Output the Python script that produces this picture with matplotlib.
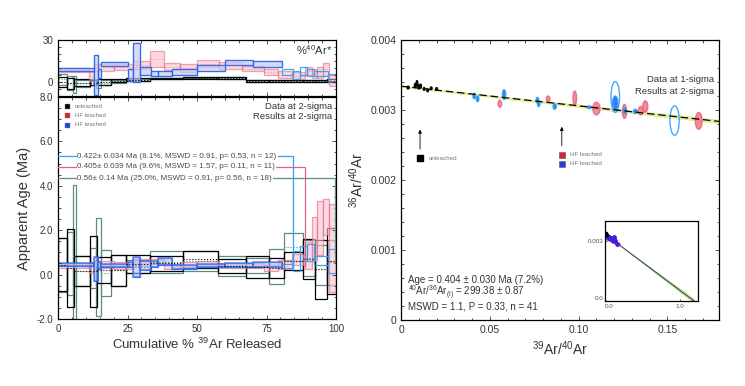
import numpy as np
import matplotlib
matplotlib.use('Agg')
import matplotlib.pyplot as plt
from matplotlib.patches import Rectangle, Ellipse
from matplotlib.ticker import MultipleLocator, FormatStrFormatter

plt.rcParams['font.family'] = ['Liberation Sans', 'DejaVu Sans']
plt.rcParams['mathtext.default'] = 'regular'

# ---- age spectrum data (cumulative % 39Ar edges, age Ma, 2s err, %40Ar*, err)
edges_k = [0, 3.2, 5.6, 11.4, 14.0, 18.9, 24.3, 32.9, 44.8, 57.4, 67.6, 75.8, 81.2, 88.1, 92.6, 96.8, 100]
age_k = [0.45, 0.30, 0.18, 0.15, 0.20, 0.20, 0.48, 0.50, 0.68, 0.38, 0.35, 0.30, 0.60, 0.70, 0.25, 0.62]
err_k = [1.20, 1.75, 0.68, 1.60, 0.60, 0.70, 0.42, 0.35, 0.38, 0.30, 0.50, 0.45, 0.40, 0.90, 1.33, 1.48]
ar_k = [0.0, -1.0, -0.5, -0.5, 0.0, 1.0, 1.5, 2.5, 3.0, 2.8, 0.8, 0.8, 1.0, 0.6, 0.5, 0.8]
arerr_k = [3.5, 4.0, 2.5, 2.0, 2.0, 1.2, 1.0, 0.6, 0.6, 0.6, 0.6, 0.6, 0.7, 0.8, 0.8, 1.0]

edges_t = [0, 3.2, 5.4, 6.6, 11.4, 13.8, 15.5, 18.9, 24.3, 32.9, 44.8, 57.4, 67.6, 75.8, 81.2, 88.1, 92.6, 96.8, 100]
age_t = [0.45, 0.50, 0.85, 0.18, 0.30, 0.33, 0.07, 0.20, 0.35, 0.55, 0.60, 0.38, 0.40, 0.36, 1.25, 0.75, 0.45, 0.55]
err_t = [1.22, 1.40, 3.20, 0.68, 0.90, 2.20, 1.05, 0.70, 0.30, 0.50, 0.45, 0.44, 0.35, 0.78, 0.63, 0.80, 0.90, 1.00]
ar_t = [2.0, -1.0, -2.0, -1.0, 0.0, -1.0, -0.5, 0.5, 1.5, 2.5, 3.0, 2.8, 0.8, 0.8, 1.0, 0.8, 0.6, 0.8]
arerr_t = [4.0, 5.0, 6.0, 2.5, 2.0, 3.0, 2.0, 1.0, 0.7, 0.6, 0.5, 0.5, 0.6, 0.6, 0.7, 0.8, 0.8, 1.0]

edges_r = [0, 11.0, 13.0, 20.0, 27.0, 33.0, 38.0, 44.0, 50.0, 58.0, 66.0, 74.0, 79.0, 84.0, 88.8, 91.2, 93.3, 95.3, 97.3, 100]
age_r = [0.42, 0.30, 0.45, 0.42, 0.55, 0.60, 0.35, 0.45, 0.50, 0.40, 0.42, 0.30, 0.45, 0.70, 0.85, 1.60, 2.10, 2.60, 1.20]
err_r = [0.12, 0.25, 0.15, 0.15, 0.15, 0.12, 0.12, 0.10, 0.12, 0.10, 0.12, 0.15, 0.20, 0.25, 0.60, 1.00, 1.20, 0.80, 2.00]
ar_r = [8.5, 4.0, 10.5, 10.5, 12.0, 16.5, 11.0, 10.0, 13.0, 12.0, 9.5, 7.0, 5.0, 4.5, 8.0, 6.0, 7.0, 9.0, 1.0]
arerr_r = [1.5, 3.0, 2.5, 2.0, 3.0, 5.5, 2.5, 3.0, 2.5, 2.5, 2.0, 2.0, 2.5, 2.5, 3.0, 3.0, 4.0, 4.5, 4.0]

edges_b = [0, 12.8, 14.2, 15.5, 25.0, 27.0, 29.5, 33.5, 36.0, 41.0, 50.0, 60.0, 70.0, 80.5, 84.5, 87.0, 89.5, 92.0, 97.0, 100]
age_b = [0.45, 0.25, 0.40, 0.40, 0.45, 0.35, 0.40, 0.48, 0.60, 0.35, 0.40, 0.42, 0.45, 0.38, 0.60, 0.95, 1.00, 0.65, 0.60]
err_b = [0.08, 0.55, 0.15, 0.08, 0.10, 0.45, 0.20, 0.15, 0.15, 0.10, 0.08, 0.08, 0.10, 0.10, 0.45, 0.35, 0.40, 0.20, 0.55]
ar_b = [9.0, 5.0, 6.0, 13.0, 5.0, 14.0, 8.0, 6.0, 6.0, 7.0, 10.0, 14.0, 13.0, 7.0, 5.0, 8.0, 7.0, 6.0, 3.0]
arerr_b = [1.0, 14.0, 3.0, 1.5, 4.0, 14.0, 3.0, 2.0, 2.0, 2.0, 2.0, 2.0, 2.0, 2.0, 3.0, 3.0, 2.5, 2.0, 3.0]

# plateau results: label, level on plot, end of bracket (%), plateau age
plateau_labels = ['0.422\u00b1 0.034 Ma (8.1%, MSWD = 0.91, p= 0.53, n = 12)',
                  '0.405\u00b1 0.039 Ma (9.6%, MSWD = 1.57, p= 0.11, n = 11)',
                  '0.56\u00b1 0.14 Ma (25.0%, MSWD = 0.91, p= 0.56, n = 18)']
plateau_level = [5.33, 4.86, 4.34]
plateau_end = [84.5, 88.8, 99.7]
plateau_age = [0.422, 0.405, 0.56]

# ---- inverse isochron data (39Ar/40Ar, 36Ar/40Ar, 1s errors)
k_x = [0.004, 0.008, 0.009, 0.010, 0.011, 0.013, 0.015, 0.017, 0.020]
k_y = [0.00332, 0.00335, 0.00338, 0.00333, 0.00334, 0.00330, 0.00328, 0.00331, 0.00330]
k_sx = [0.0006, 0.0005, 0.0005, 0.0005, 0.0005, 0.0005, 0.0005, 0.0005, 0.0005]
k_sy = [0.00002, 0.00003, 0.00004, 0.00003, 0.00003, 0.00002, 0.00002, 0.00002, 0.00002]

r_x = [0.0556, 0.0828, 0.0978, 0.110, 0.1258, 0.135, 0.1375, 0.1676]
r_y = [0.00309, 0.00316, 0.00317, 0.00302, 0.00298, 0.00299, 0.00305, 0.002845]
r_sx = [0.0010, 0.0010, 0.0010, 0.0020, 0.0012, 0.0014, 0.0014, 0.0019]
r_sy = [0.00005, 0.00004, 0.00010, 0.00009, 0.00010, 0.00006, 0.00008, 0.00012]

b_x = [0.0412, 0.0431, 0.058, 0.0768, 0.0775, 0.0865, 0.106, 0.1206, 0.1206, 0.126, 0.1319, 0.154]
b_y = [0.00320, 0.00316, 0.00322, 0.00314, 0.00309, 0.00305, 0.00304, 0.003186, 0.00310, 0.00299, 0.00298, 0.00285]
b_sx = [0.0007, 0.0007, 0.0009, 0.0007, 0.0007, 0.0009, 0.0010, 0.0024, 0.0015, 0.0009, 0.0010, 0.0026]
b_sy = [0.00004, 0.00004, 0.00007, 0.00004, 0.00004, 0.00004, 0.00002, 0.00022, 0.00010, 0.00004, 0.00003, 0.00021]

iso_intercept = 0.003340
iso_slope = -0.00281
iso_sa = 0.000015
iso_sb = 0.00009

TEAL = '#5b8c86'
RED = '#e8607a'
BLUE = '#1f4fe0'
LBLUE = '#2aa0ff'
TXT = '#333333'

fig = plt.figure(figsize=(7.45, 3.86), dpi=100)
ax_top = fig.add_axes([0.0779, 0.7513, 0.3732, 0.1451])
ax_age = fig.add_axes([0.0779, 0.1736, 0.3732, 0.5751])
ax_iso = fig.add_axes([0.5383, 0.1710, 0.4268, 0.7254])
ax_in = fig.add_axes([0.8121, 0.2202, 0.1248, 0.2073])


def draw_steps(ax, edges, vals, errs, color, lw=0.9, alpha=1.0, fill=None, dotted=False):
    for i in range(len(vals)):
        x0, x1 = edges[i], edges[i + 1]
        rect = Rectangle((x0, vals[i] - errs[i]), x1 - x0, 2 * errs[i],
                         facecolor=fill if fill else 'none', edgecolor=color,
                         lw=lw, alpha=alpha)
        ax.add_patch(rect)
        if dotted:
            ax.plot([x0, x1], [vals[i], vals[i]], ls=':', color=color, lw=0.8, alpha=alpha)


def style_axis(ax):
    ax.tick_params(direction='in', which='both', top=True, right=True,
                   labelsize=7, colors=TXT, length=3, width=0.6)
    ax.tick_params(which='minor', length=1.8)
    for s in ax.spines.values():
        s.set_linewidth(0.9)


# top panel: %40Ar*
draw_steps(ax_top, edges_t, ar_t, arerr_t, TEAL, dotted=True)
draw_steps(ax_top, edges_k, ar_k, arerr_k, 'black', dotted=True)
draw_steps(ax_top, edges_r, ar_r, arerr_r, RED, alpha=0.55, fill='#f6b8c4', dotted=True)
draw_steps(ax_top, edges_b, ar_b, arerr_b, LBLUE, alpha=0.9)
draw_steps(ax_top, edges_b[:14], ar_b[:13], arerr_b[:13], BLUE, alpha=0.7, fill='#c8c8f4')
ax_top.set_xlim(0, 100)
ax_top.set_ylim(-10, 30)
ax_top.set_yticks([0, 30])
ax_top.xaxis.set_major_locator(MultipleLocator(25))
ax_top.xaxis.set_minor_locator(MultipleLocator(5))
ax_top.yaxis.set_minor_locator(MultipleLocator(5))
ax_top.set_xticklabels([])
style_axis(ax_top)
ax_top.text(0.985, 0.82, '%$^{40}$Ar*', transform=ax_top.transAxes,
            ha='right', va='center', fontsize=8, color=TXT)

# main panel: age spectrum
draw_steps(ax_age, edges_t, age_t, err_t, TEAL, dotted=True)
draw_steps(ax_age, edges_k, age_k, err_k, 'black', dotted=True)
draw_steps(ax_age, edges_r, age_r, err_r, RED, alpha=0.6, fill='#f8c4cf')
draw_steps(ax_age, edges_b, age_b, err_b, LBLUE, alpha=0.9)
draw_steps(ax_age, edges_b[:14], age_b[:13], err_b[:13], BLUE, alpha=0.6, fill='#b8b8f0', lw=1.2)

pl_colors = [LBLUE, RED, TEAL]
for lab, lev, end, pa, c in zip(plateau_labels, plateau_level, plateau_end, plateau_age, pl_colors):
    ax_age.plot([0, end, end], [lev, lev, pa], color=c, lw=0.9, zorder=3)
    ax_age.text(7.0, lev, lab, fontsize=5.8, color='#4a4a4a', va='center', ha='left',
                zorder=4, bbox=dict(facecolor='white', edgecolor='none', pad=0.6))

ax_age.set_xlim(0, 100)
ax_age.set_ylim(-2, 8)
ax_age.xaxis.set_major_locator(MultipleLocator(25))
ax_age.xaxis.set_minor_locator(MultipleLocator(5))
ax_age.yaxis.set_major_locator(MultipleLocator(2))
ax_age.yaxis.set_minor_locator(MultipleLocator(0.5))
ax_age.yaxis.set_major_formatter(FormatStrFormatter('%.1f'))
style_axis(ax_age)
ax_age.set_ylabel('Apparent Age (Ma)', fontsize=10.5, color=TXT, labelpad=4)
ax_age.set_xlabel('Cumulative % $^{39}$Ar Released', fontsize=9.5, color=TXT, labelpad=2)

leg_names = ['unleached', 'HF leached', 'HF leached']
leg_cols = ['black', '#e02030', '#2040e0']
for i, (n, c) in enumerate(zip(leg_names, leg_cols)):
    yy = 0.958 - i * 0.041
    ax_age.plot([0.032], [yy], 's', color=c, ms=3.6, transform=ax_age.transAxes,
                mec='#888888', mew=0.3)
    ax_age.text(0.06, yy, n, transform=ax_age.transAxes, fontsize=4.3,
                color='#777777', va='center')
ax_age.text(0.985, 0.955, 'Data at 2-sigma', transform=ax_age.transAxes,
            ha='right', va='center', fontsize=6.8, color=TXT)
ax_age.text(0.985, 0.91, 'Results at 2-sigma', transform=ax_age.transAxes,
            ha='right', va='center', fontsize=6.8, color=TXT)

# right panel: inverse isochron
xl = np.linspace(0, 0.18, 50)
yl = iso_intercept + iso_slope * xl
band = iso_sa + iso_sb * xl
ax_iso.fill_between(xl, yl - band, yl + band, color='#e4ec9c', lw=0)
ax_iso.plot(xl, yl, color='black', lw=0.9, ls=(0, (6, 3)))


def draw_ellipses(ax, xs, ys, sxs, sys_, color, fillc, thresh=0.00015):
    for x, y, sx, sy in zip(xs, ys, sxs, sys_):
        fc = fillc if sy < thresh else 'none'
        ax.add_patch(Ellipse((x, y), 2 * sx, 2 * sy, facecolor=fc,
                             edgecolor=color, lw=1.0, alpha=0.9))


draw_ellipses(ax_iso, k_x, k_y, k_sx, k_sy, 'black', 'black')
draw_ellipses(ax_iso, r_x, r_y, r_sx, r_sy, '#ea6a7c', '#f08090')
draw_ellipses(ax_iso, b_x, b_y, b_sx, b_sy, LBLUE, '#2f6bf0')

ax_iso.set_xlim(0, 0.179)
ax_iso.set_ylim(0, 0.004)
ax_iso.set_xticks([0, 0.05, 0.10, 0.15])
ax_iso.set_xticklabels(['0', '0.05', '0.10', '0.15'])
ax_iso.set_yticks([0, 0.001, 0.002, 0.003, 0.004])
ax_iso.set_yticklabels(['0', '0.001', '0.002', '0.003', '0.004'])
ax_iso.xaxis.set_minor_locator(MultipleLocator(0.01))
ax_iso.yaxis.set_minor_locator(MultipleLocator(0.0002))
style_axis(ax_iso)
ax_iso.tick_params(labelsize=7.5)
ax_iso.set_xlabel('$^{39}$Ar/$^{40}$Ar', fontsize=10, color=TXT, labelpad=3)
ax_iso.set_ylabel('$^{36}$Ar/$^{40}$Ar', fontsize=10, color=TXT, labelpad=3)

ax_iso.text(0.985, 0.86, 'Data at 1-sigma', transform=ax_iso.transAxes,
            ha='right', va='center', fontsize=6.8, color=TXT)
ax_iso.text(0.985, 0.815, 'Results at 2-sigma', transform=ax_iso.transAxes,
            ha='right', va='center', fontsize=6.8, color=TXT)

ax_iso.annotate('', xy=(0.0107, 0.00276), xytext=(0.0107, 0.00240),
                arrowprops=dict(arrowstyle='-|>', color='black', lw=0.6, mutation_scale=5))
ax_iso.annotate('', xy=(0.0905, 0.00280), xytext=(0.0905, 0.00245),
                arrowprops=dict(arrowstyle='-|>', color='black', lw=0.6, mutation_scale=5))
ax_iso.plot([0.0107], [0.00231], 's', color='black', ms=4.5)
ax_iso.plot([0.0905], [0.00236], 's', color='#e02030', ms=4, mec='#555555', mew=0.4)
ax_iso.plot([0.0905], [0.00223], 's', color='#2040e0', ms=4, mec='#555555', mew=0.4)
ax_iso.text(0.0155, 0.00231, 'unleached', fontsize=4.5, color='#777777', va='center')
ax_iso.text(0.0950, 0.00236, 'HF leached', fontsize=4.5, color='#777777', va='center')
ax_iso.text(0.0950, 0.00223, 'HF leached', fontsize=4.5, color='#777777', va='center')

stats = ['Age = 0.404 \u00b1 0.030 Ma (7.2%)',
         '$^{40}$Ar/$^{36}$Ar$_{(i)}$ = 299.38 \u00b1 0.87',
         'MSWD = 1.1, P = 0.33, n = 41']
for i, s in enumerate(stats):
    ax_iso.text(0.022, 0.143 - i * 0.047, s, transform=ax_iso.transAxes,
                fontsize=7, color=TXT, va='center')

# inset
xi = np.linspace(0, 1.19, 50)
yi = iso_intercept + iso_slope * xi
bi = iso_sa + iso_sb * xi
ax_in.fill_between(xi, yi - bi, yi + bi, color='#bfe08a', lw=0)
ax_in.plot(xi, yi, color='#1a2a6a', lw=0.6)
ax_in.plot(r_x, r_y, 'o', color='#e04060', ms=2)
ax_in.plot(b_x, b_y, 'o', color='#4020e0', ms=2.4)
ax_in.plot(k_x, k_y, 'o', color='black', ms=1.6)
ax_in.set_xlim(0, 1.24)
ax_in.set_ylim(0, 0.004)
ax_in.set_xticks([0, 1.0])
ax_in.set_xticklabels(['0.0', '1.0'])
ax_in.set_yticks([0, 0.003])
ax_in.set_yticklabels(['0.0', '0.003'])
ax_in.tick_params(direction='in', labelsize=4.5, colors='#555555', length=1.5, pad=1)
ax_in.tick_params(axis='x', pad=2)
ax_in.get_yticklabels()[0].set_va('bottom')
ax_in.get_xticklabels()[0].set_ha('left')
for s in ax_in.spines.values():
    s.set_linewidth(0.9)

fig.savefig('out.png', dpi=100)
